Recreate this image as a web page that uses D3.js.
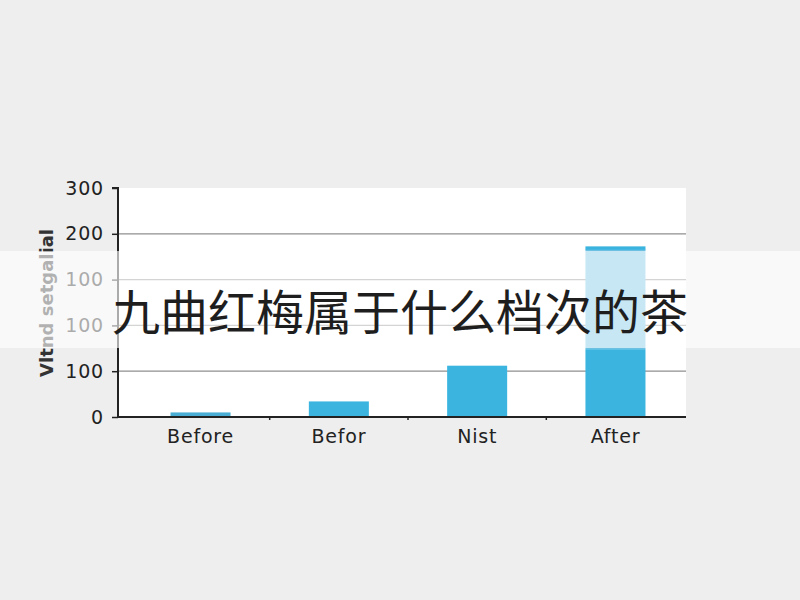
<!DOCTYPE html>
<html><head><meta charset="utf-8">
<script src="https://cdn.jsdelivr.net/npm/d3@7"></script>
<style>html,body{margin:0;padding:0;background:#eeeeee;}svg{display:block;}</style>
</head><body>
<svg id="c" width="800" height="600"></svg>
<script>
const categories = ["Before", "Befor", "Nist", "After"];
const baseValues = [5, 17, 56, 74];
const upperValues = [0, 0, 0, 183];
const yTickValues = [0, 50, 100, 150, 200, 250];
const yTickLabels = ["0", "100", "100", "100", "200", "300"];
const yAxisTitle = "Vltnd setgalial";
const title = "九曲红梅属于什么档次的茶";

const svg = d3.select("#c");
svg.append("rect").attr("width", 800).attr("height", 600).attr("fill", "#eeeeee");

const x = d3.scaleBand().domain(categories).range([130, 686]).paddingInner(0.566).paddingOuter(0.293);
const y = d3.scaleLinear().domain([0, 250]).range([417, 188]);

// plot area
svg.append("rect").attr("x", 118).attr("y", y(250)).attr("width", 686 - 118).attr("height", y(0) - y(250)).attr("fill", "#ffffff");

// gridlines
svg.append("g").selectAll("line").data(yTickValues.filter(v => v > 0 && v < 250)).join("line")
  .attr("x1", 118).attr("x2", 686).attr("y1", d => y(d)).attr("y2", d => y(d))
  .attr("stroke", "#8f8f8f").attr("stroke-width", 1.3);

// upper (light) bars
const data = categories.map((c, i) => ({c, b: baseValues[i], u: upperValues[i]}));
svg.append("g").selectAll("rect").data(data.filter(d => d.u > 0)).join("rect")
  .attr("x", d => x(d.c)).attr("width", x.bandwidth())
  .attr("y", d => y(d.u)).attr("height", d => y(d.b) - y(d.u))
  .attr("fill", "#6cc1e3");
svg.append("g").selectAll("rect").data(data.filter(d => d.u > 0)).join("rect")
  .attr("x", d => x(d.c)).attr("width", x.bandwidth())
  .attr("y", d => y(d.u) - 3).attr("height", 3.5)
  .attr("fill", "#3ab3de");
// base bars
svg.append("g").selectAll("rect").data(data).join("rect")
  .attr("x", d => x(d.c)).attr("width", x.bandwidth())
  .attr("y", d => y(d.b)).attr("height", d => y(0) - y(d.b))
  .attr("fill", (d, i) => i === 0 ? "#4aaed4" : "#3bb5e0");

const labelFont = sel => sel.attr("fill", "#222")
  .style("font-family", "'DejaVu Sans', sans-serif").style("font-size", "19px")
  .style("font-weight", "500").style("letter-spacing", "0.8px");

// y axis
const yAxis = d3.axisLeft(y).tickValues(yTickValues).tickSize(6).tickFormat((d, i) => yTickLabels[i]);
const gy = svg.append("g").attr("transform", "translate(118,0)").call(yAxis);
gy.select(".domain").attr("stroke", "#222").attr("stroke-width", 2).attr("d", `M-6,${y(250)}H0V${y(0)}`);
gy.selectAll(".tick line").attr("stroke", "#222").attr("stroke-width", 1.5);
gy.selectAll(".tick text").attr("x", -14).call(labelFont);

// x axis
const xAxis = d3.axisBottom(x).tickSize(0).tickPadding(13);
const gx = svg.append("g").attr("transform", `translate(0,${y(0)})`).call(xAxis);
gx.select(".domain").attr("stroke", "#222").attr("stroke-width", 2).attr("d", `M118,0H686`);
gx.selectAll(".tick text").call(labelFont);
// small separator ticks between categories
const seps = categories.slice(0, -1).map((c, i) => (x(c) + x.bandwidth() + x(categories[i + 1])) / 2);
svg.append("g").selectAll("line").data(seps).join("line")
  .attr("x1", d => d).attr("x2", d => d).attr("y1", y(0)).attr("y2", y(0) + 3)
  .attr("stroke", "#222").attr("stroke-width", 1.5);

// y axis title
svg.append("text").attr("transform", "translate(53,303) rotate(-90)")
  .attr("text-anchor", "middle").attr("fill", "#333")
  .style("font-family", "'DejaVu Sans', sans-serif").style("font-size", "18px").style("font-weight", "600")
  .text(yAxisTitle);

// overlay band and title
svg.append("rect").attr("x", 0).attr("y", 251).attr("width", 800).attr("height", 97)
  .attr("fill", "#ffffff").attr("opacity", 0.62);
svg.append("text").attr("x", 400).attr("y", 309).attr("text-anchor", "middle").attr("dominant-baseline", "central")
  .attr("fill", "#1e1e1e")
  .style("font-family", "'Noto Sans CJK SC', sans-serif").style("font-size", "48px")
  .text(title);
</script>
</body></html>
